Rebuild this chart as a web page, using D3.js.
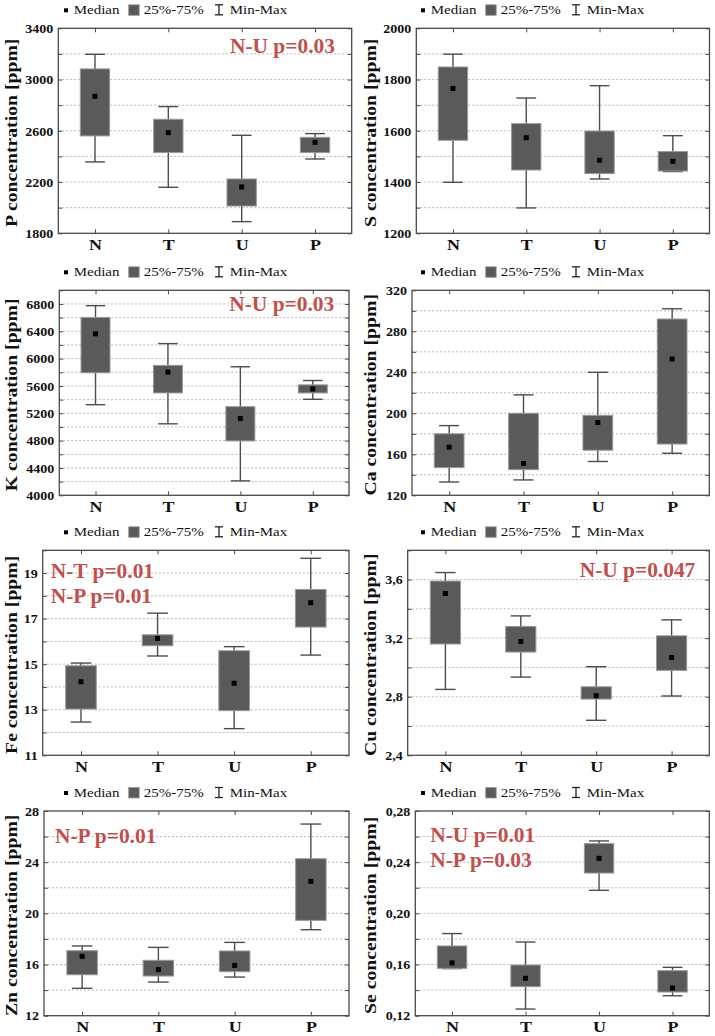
<!DOCTYPE html>
<html><head><meta charset="utf-8">
<script src="https://cdn.jsdelivr.net/npm/d3@7"></script>
<style>
html,body{margin:0;padding:0;background:#fff;}
svg{display:block;}
</style></head>
<body>
<svg id="chart" width="715" height="1036"></svg>
<script>
// ---------- DATA ----------
const categories = ["N", "T", "U", "P"];

// P
const P_min = [2357, 2159, 1891, 2380];
const P_q1  = [2560, 2430, 2013, 2430];
const P_med = [2869, 2586, 2162, 2510];
const P_q3  = [3083, 2690, 2224, 2549];
const P_max = [3197, 2789, 2565, 2578];
const P_ticks = [1800, 2200, 2600, 3000, 3400];
// S
const S_min = [1399, 1299, 1412, 1441];
const S_q1  = [1563, 1447, 1433, 1443];
const S_med = [1765, 1573, 1485, 1481];
const S_q3  = [1849, 1628, 1599, 1519];
const S_max = [1899, 1728, 1776, 1581];
const S_ticks = [1200, 1400, 1600, 1800, 2000];
// K
const K_min = [5326, 5046, 4211, 5405];
const K_q1  = [5793, 5498, 4796, 5498];
const K_med = [6363, 5803, 5125, 5557];
const K_q3  = [6603, 5901, 5297, 5616];
const K_max = [6775, 6220, 5881, 5680];
const K_ticks = [4000, 4400, 4800, 5200, 5600, 6000, 6400, 6800];
// Ca
const Ca_min = [133, 135, 153, 161];
const Ca_q1  = [147, 145, 164, 170];
const Ca_med = [167, 151, 191, 253];
const Ca_q3  = [180, 200, 198, 292];
const Ca_max = [188, 218, 240, 302];
const Ca_ticks = [120, 160, 200, 240, 280, 320];
// Fe
const Fe_min = [12.46, 15.36, 12.17, 15.40];
const Fe_q1  = [13.03, 15.81, 12.96, 16.63];
const Fe_med = [14.23, 16.13, 14.16, 17.70];
const Fe_q3  = [14.93, 16.29, 15.59, 18.28];
const Fe_max = [15.05, 17.24, 15.77, 19.65];
const Fe_ticks = [11, 13, 15, 17, 19];
// Cu
const Cu_min = [2.850, 2.934, 2.639, 2.805];
const Cu_q1  = [3.160, 3.105, 2.784, 2.980];
const Cu_med = [3.505, 3.177, 2.807, 3.068];
const Cu_q3  = [3.590, 3.280, 2.868, 3.216];
const Cu_max = [3.648, 3.352, 3.005, 3.325];
const Cu_ticks = [2.4, 2.8, 3.2, 3.6];
// Zn
const Zn_min = [14.14, 14.63, 15.02, 18.72];
const Zn_q1  = [15.20, 15.10, 15.44, 19.45];
const Zn_med = [16.64, 15.60, 15.93, 22.50];
const Zn_q3  = [17.08, 16.33, 17.06, 24.27];
const Zn_max = [17.45, 17.34, 17.73, 26.98];
const Zn_ticks = [12, 16, 20, 24, 28];
// Se
const Se_min = [0.1568, 0.1252, 0.2180, 0.1356];
const Se_q1  = [0.1570, 0.1427, 0.2315, 0.1385];
const Se_med = [0.1613, 0.1492, 0.2430, 0.1416];
const Se_q3  = [0.1745, 0.1596, 0.2545, 0.1552];
const Se_max = [0.1842, 0.1776, 0.2566, 0.1578];
const Se_ticks = [0.12, 0.16, 0.20, 0.24, 0.28];

const legendLabels = ["Median", "25%-75%", "Min-Max"];
const notesP  = ["N-U p=0.03"];
const notesK  = ["N-U p=0.03"];
const notesFe = ["N-T p=0.01", "N-P p=0.01"];
const notesCu = ["N-U p=0.047"];
const notesZn = ["N-P p=0.01"];
const notesSe = ["N-U p=0.01", "N-P p=0.03"];

// ---------- LAYOUT ----------
const commaFmt1 = d => d3.format(".1f")(d).replace(".", ",");
const commaFmt2 = d => d3.format(".2f")(d).replace(".", ",");
const intFmt = d3.format("d");

const panels = [
  {label:"P concentration [ppm]", col:0, f:{l:58.3,r:351.7,t:28.3,b:233.3}, domain:[1800,3400], step:200, ticks:P_ticks, fmt:intFmt,
   s:[P_min,P_q1,P_med,P_q3,P_max], notes:notesP, notePos:[[230,52.7]]},
  {label:"S concentration [ppm]", col:1, f:{l:416.3,r:709.5,t:28.3,b:233.3}, domain:[1200,2000], step:100, ticks:S_ticks, fmt:intFmt,
   s:[S_min,S_q1,S_med,S_q3,S_max], notes:[], notePos:[]},
  {label:"K concentration [ppm]", col:0, f:{l:59.3,r:349,t:290.3,b:495.3}, domain:[4000,7000], step:200, ticks:K_ticks, fmt:intFmt,
   s:[K_min,K_q1,K_med,K_q3,K_max], notes:notesK, notePos:[[229.3,311.3]]},
  {label:"Ca concentration [ppm]", col:1, f:{l:412,r:709.3,t:290.3,b:495.3}, domain:[120,320], step:20, ticks:Ca_ticks, fmt:intFmt,
   s:[Ca_min,Ca_q1,Ca_med,Ca_q3,Ca_max], notes:[], notePos:[]},
  {label:"Fe concentration [ppm]", col:0, f:{l:42.7,r:349,t:550.3,b:755.3}, domain:[11,20], step:1, ticks:Fe_ticks, fmt:intFmt,
   s:[Fe_min,Fe_q1,Fe_med,Fe_q3,Fe_max], notes:notesFe, notePos:[[50.7,578],[50.7,603]]},
  {label:"Cu concentration [ppm]", col:1, f:{l:407.7,r:709.3,t:550.3,b:755.3}, domain:[2.4,3.8], step:0.2, ticks:Cu_ticks, fmt:commaFmt1,
   s:[Cu_min,Cu_q1,Cu_med,Cu_q3,Cu_max], notes:notesCu, notePos:[[579.7,577.3]]},
  {label:"Zn concentration [ppm]", col:0, f:{l:44,r:349,t:811,b:1015.7}, domain:[12,28], step:2, ticks:Zn_ticks, fmt:intFmt,
   s:[Zn_min,Zn_q1,Zn_med,Zn_q3,Zn_max], notes:notesZn, notePos:[[55,842.7]]},
  {label:"Se concentration [ppm]", col:1, f:{l:415.3,r:709.3,t:811,b:1015.7}, domain:[0.12,0.28], step:0.02, ticks:Se_ticks, fmt:commaFmt2,
   s:[Se_min,Se_q1,Se_med,Se_q3,Se_max], notes:notesSe, notePos:[[430.3,841.7],[430.3,866.7]]}
];

const FONT = "'Liberation Serif','Times New Roman',serif";
const svg = d3.select("#chart");
const colLeft = [0, 357];
const frameColor = "#4a4a4a";
const boxFill = "#5a5a5a";
const noteColor = "#c0504d";

function stext(g, x, y, txt, size, sx, opts={}) {
  const t = g.append("text")
    .attr("transform", `translate(${x},${y})${opts.rot ? ` rotate(${opts.rot})` : ""} scale(${sx},1)`)
    .attr("font-family", FONT)
    .attr("font-size", size)
    .attr("fill", opts.fill || "#111")
    .attr("text-anchor", opts.anchor || "start")
    .text(txt);
  if (opts.bold) t.attr("font-weight", "bold");
  return t;
}

panels.forEach(p => {
  const g = svg.append("g");
  const {l, r, t, b} = p.f;
  const cx = colLeft[p.col];
  const x = d3.scalePoint().domain(categories).range([l, r]).padding(0.5);
  const y = d3.scaleLinear().domain(p.domain).range([b, t]);
  const n = Math.round((p.domain[1] - p.domain[0]) / p.step);
  const gridVals = d3.range(1, n).map(i => p.domain[0] + i * p.step);
  const allVals = d3.range(0, n + 1).map(i => p.domain[0] + i * p.step);

  // grid
  g.append("g").selectAll("line").data(gridVals).join("line")
    .attr("x1", l).attr("x2", r)
    .attr("y1", d => y(d)).attr("y2", d => y(d))
    .attr("stroke", "#b8b8b8").attr("stroke-width", 1).attr("stroke-dasharray", "2,2");

  // inner ticks on all sides
  const tickL = g.append("g").attr("transform", `translate(${l},0)`)
    .call(d3.axisLeft(y).tickValues(allVals).tickSizeInner(-4).tickSizeOuter(0).tickFormat(""));
  const tickR = g.append("g").attr("transform", `translate(${r},0)`)
    .call(d3.axisRight(y).tickValues(allVals).tickSizeInner(-4).tickSizeOuter(0).tickFormat(""));
  const tickB = g.append("g").attr("transform", `translate(0,${b})`)
    .call(d3.axisBottom(x).tickSizeInner(-4).tickSizeOuter(0).tickFormat(""));
  const tickT = g.append("g").attr("transform", `translate(0,${t})`)
    .call(d3.axisTop(x).tickSizeInner(-4).tickSizeOuter(0).tickFormat(""));
  [tickL, tickR, tickB, tickT].forEach(a => {
    a.select(".domain").remove();
    a.selectAll("line").attr("stroke", frameColor).attr("stroke-width", 1);
  });

  // y tick labels
  const yAx = g.append("g").attr("transform", `translate(${l},0)`)
    .call(d3.axisLeft(y).tickValues(p.ticks).tickSize(0).tickFormat(p.fmt));
  yAx.select(".domain").remove();
  yAx.selectAll("text")
    .attr("x", 0).attr("dy", "0.35em")
    .attr("transform", "translate(-5,0) scale(1.17,1)")
    .attr("font-family", FONT).attr("font-size", 12).attr("font-weight", "bold").attr("fill", "#111");

  // x labels
  const xAx = g.append("g").attr("transform", `translate(0,${b})`)
    .call(d3.axisBottom(x).tickSize(0));
  xAx.select(".domain").remove();
  xAx.selectAll("text")
    .attr("y", 0).attr("dy", 0)
    .attr("transform", "translate(0,16.5) scale(1.2,1)")
    .attr("font-family", FONT).attr("font-size", 15).attr("font-weight", "bold").attr("fill", "#111");

  // whiskers
  const step = x.step();
  const bw = step * 0.4, cw = step * 0.27;
  const idx = d3.range(categories.length);
  const [mins, q1s, meds, q3s, maxs] = p.s;
  const wg = g.append("g").attr("stroke", "#4d4d4d").attr("stroke-width", 1.4);
  wg.selectAll(".v").data(idx).join("line")
    .attr("x1", i => x(categories[i])).attr("x2", i => x(categories[i]))
    .attr("y1", i => y(mins[i])).attr("y2", i => y(maxs[i]));
  wg.selectAll(".cmin").data(idx).join("line")
    .attr("x1", i => x(categories[i]) - cw/2).attr("x2", i => x(categories[i]) + cw/2)
    .attr("y1", i => y(mins[i])).attr("y2", i => y(mins[i]));
  wg.selectAll(".cmax").data(idx).join("line")
    .attr("x1", i => x(categories[i]) - cw/2).attr("x2", i => x(categories[i]) + cw/2)
    .attr("y1", i => y(maxs[i])).attr("y2", i => y(maxs[i]));

  // boxes
  g.append("g").selectAll("rect").data(idx).join("rect")
    .attr("x", i => x(categories[i]) - bw/2).attr("width", bw)
    .attr("y", i => y(q3s[i])).attr("height", i => y(q1s[i]) - y(q3s[i]))
    .attr("fill", boxFill).attr("stroke", "#999").attr("stroke-width", 1);

  // medians
  g.append("g").selectAll("rect").data(idx).join("rect")
    .attr("x", i => x(categories[i]) - 2.5).attr("width", 5)
    .attr("y", i => y(meds[i]) - 2.5).attr("height", 5)
    .attr("fill", "#000");

  // frame
  g.append("rect").attr("x", l).attr("y", t).attr("width", r - l).attr("height", b - t)
    .attr("fill", "none").attr("stroke", frameColor).attr("stroke-width", 1.3);

  // y label
  stext(g, cx + (p.col ? 19 : 16.5), (t + b) / 2 + 2, p.label, 17, 1.16, {rot:-90, anchor:"middle", bold:true});

  // legend
  const lx = cx + 64, ly = t - 14;
  g.append("rect").attr("x", lx).attr("y", ly - 6).attr("width", 4).attr("height", 4).attr("fill", "#000");
  stext(g, lx + 9.7, ly, legendLabels[0], 12, 1.25);
  g.append("rect").attr("x", lx + 64.7).attr("y", ly - 9.5).attr("width", 10.5).attr("height", 10.5)
    .attr("fill", boxFill).attr("stroke", "#999").attr("stroke-width", 0.8);
  stext(g, lx + 79.7, ly, legendLabels[1], 12, 1.25);
  const wx = lx + 155;
  const lg = g.append("g").attr("stroke", "#222").attr("stroke-width", 1.3);
  lg.append("line").attr("x1", wx).attr("x2", wx).attr("y1", ly - 9.5).attr("y2", ly + 0.5);
  lg.append("line").attr("x1", wx - 4).attr("x2", wx + 4).attr("y1", ly - 9.5).attr("y2", ly - 9.5);
  lg.append("line").attr("x1", wx - 4).attr("x2", wx + 4).attr("y1", ly + 0.5).attr("y2", ly + 0.5);
  stext(g, lx + 165.7, ly, legendLabels[2], 12, 1.25);

  // notes
  p.notes.forEach((txt, k) => {
    stext(g, p.notePos[k][0], p.notePos[k][1], txt, 20, 1.07, {bold:true, fill:noteColor});
  });
});
</script>
</body></html>
